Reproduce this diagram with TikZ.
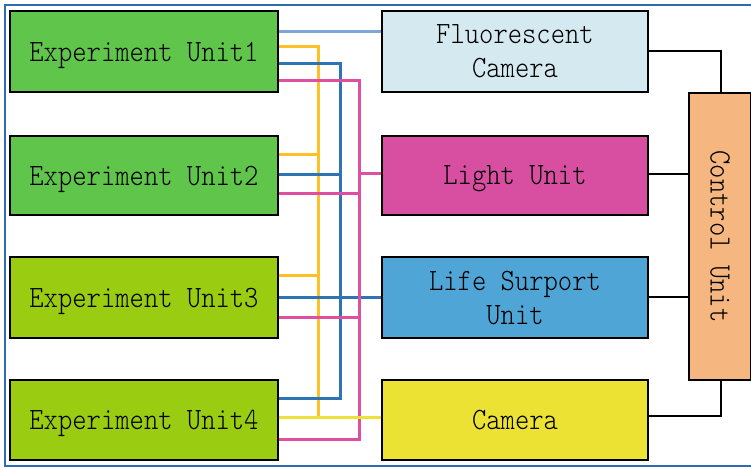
\documentclass[tikz,border=0pt]{standalone}
\usepackage{fontspec}
\setmonofont[FakeStretch=0.88]{Latin Modern Mono Light}
\usetikzlibrary{positioning}
\definecolor{frameblue}{HTML}{2E6DB4}
\definecolor{greenA}{HTML}{60C54B}
\definecolor{greenB}{HTML}{9ACC12}
\definecolor{fluoblue}{HTML}{D4E9F0}
\definecolor{lightpink}{HTML}{D84FA1}
\definecolor{lifeblue}{HTML}{4FA5D6}
\definecolor{camyellow}{HTML}{EBE233}
\definecolor{ctrlorange}{HTML}{F5B67F}
\definecolor{wireA}{HTML}{7FA6D8}
\definecolor{wireY}{HTML}{FFC025}
\definecolor{wireB}{HTML}{2E74B5}
\definecolor{wireP}{HTML}{DF4EA0}
\definecolor{wireC}{HTML}{EEE23A}
\tikzset{
  x=1pt, y=-1pt,
  labelfont/.style={font=\fontsize{31}{34}\selectfont\ttfamily},
  unitbox/.style={draw=black, line width=2pt, minimum width=268pt, minimum height=81pt,
    inner sep=0pt, align=center, text depth=0pt, labelfont},
  wire/.style={line width=3pt},
  blackwire/.style={draw=black, line width=2pt},
}
\begin{document}
\begin{tikzpicture}
\useasboundingbox (0,0) rectangle (751,468);
% outer frame
\draw[frameblue, line width=2pt] (5,5) rectangle (760,466);

% wires behind the boxes
% light blue: unit 1 to fluorescent camera
\draw[wire, wireA] (277,32) -- (381,32);
% yellow bus
\draw[wire, wireY] (277,47) -- (318,47) -- (318,417);
\draw[wire, wireY] (277,154) -- (318,154);
\draw[wire, wireY] (277,275) -- (318,275);
% dark blue bus
\draw[wire, wireB] (277,64) -- (340,64) -- (340,398) -- (277,398);
\draw[wire, wireB] (277,174) -- (340,174);
\draw[wire, wireB] (277,297) -- (381,297);
% pink bus
\draw[wire, wireP] (277,81) -- (359,81) -- (359,439) -- (277,439);
\draw[wire, wireP] (277,193) -- (359,193);
\draw[wire, wireP] (277,317) -- (359,317);
\draw[wire, wireP] (359,173) -- (381,173);
% camera line
\draw[wire, wireC] (277,417) -- (381,417);

% experiment units
\node[unitbox, fill=greenA, anchor=north west] (e1) at (9,10) {Experiment Unit1};
\node[unitbox, fill=greenA, anchor=north west, minimum height=79pt] (e2) at (9,135) {Experiment Unit2};
\node[unitbox, fill=greenB, anchor=north west] (e3) at (9,256) {Experiment Unit3};
\node[unitbox, fill=greenB, anchor=north west, minimum height=80pt] (e4) at (9,379) {Experiment Unit4};

% equipment
\node[unitbox, fill=fluoblue, anchor=north west, minimum width=266pt] (fc) at (381,10) {Fluorescent\\Camera};
\node[unitbox, fill=lightpink, anchor=north west, minimum width=266pt, minimum height=79pt] (lu) at (381,135) {Light Unit};
\node[unitbox, fill=lifeblue, anchor=north west, minimum width=266pt] (ls) at (381,256) {Life Surport\\Unit};
\node[unitbox, fill=camyellow, anchor=north west, minimum width=266pt, minimum height=80pt] (cam) at (381,379) {Camera};

% control unit
\node[draw=black, line width=2pt, fill=ctrlorange, anchor=north west, minimum width=62pt,
  minimum height=287pt, inner sep=0pt] (cu) at (688,92) {};
\node[rotate=-90, labelfont] (cut) at (cu.center) {Control Unit};

% control connections
\coordinate (k1) at (721,51);
\coordinate (k4) at (721,416);
\draw[blackwire] (fc.east |- 0,51) -- (k1) -- (k1 |- cu.north);
\draw[blackwire] (lu.east |- 0,174) -- (cu.west |- 0,174);
\draw[blackwire] (ls.east |- 0,297) -- (cu.west |- 0,297);
\draw[blackwire] (cam.east |- 0,416) -- (k4) -- (k4 |- cu.south);
\end{tikzpicture}
\end{document}
